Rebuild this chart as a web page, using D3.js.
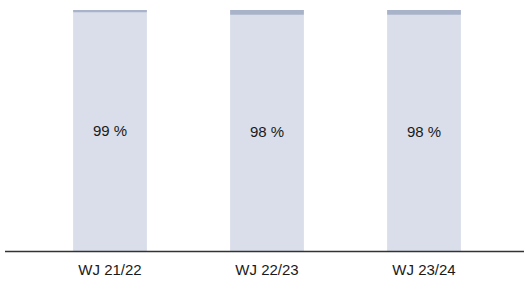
<!DOCTYPE html>
<html>
<head>
<meta charset="utf-8">
<script src="https://cdn.jsdelivr.net/npm/d3@7"></script>
<style>
  body { margin: 0; background: #fff; }
  text { font-family: "Liberation Sans", Arial, sans-serif; fill: #1a1a1a; }
</style>
</head>
<body>
<div id="chart"></div>
<script>
// data
var years = ["WJ 21/22", "WJ 22/23", "WJ 23/24"];
var shareMain = [99, 98, 98];
var shareRest = [1, 2, 2];

var width = 525, height = 283;
var baseY = 251, topY = 10;

var svg = d3.select("#chart").append("svg")
    .attr("width", width)
    .attr("height", height);

var x = d3.scaleBand()
    .domain(years)
    .range([31.5, 502.5])
    .paddingInner(0.53)
    .paddingOuter(0.265);

var y = d3.scaleLinear()
    .domain([0, 100])
    .range([baseY, topY]);

var rows = years.map(function (d, i) {
    return { year: d, main: shareMain[i], rest: shareRest[i] };
});

// light part (main share)
svg.selectAll(".barMain")
    .data(rows)
    .enter()
    .append("rect")
    .attr("class", "barMain")
    .attr("x", function (d) { return x(d.year); })
    .attr("width", x.bandwidth())
    .attr("y", function (d) { return y(d.main); })
    .attr("height", function (d) { return y(0) - y(d.main); })
    .attr("fill", "#d9deea");

// dark cap (rest)
svg.selectAll(".barRest")
    .data(rows)
    .enter()
    .append("rect")
    .attr("class", "barRest")
    .attr("x", function (d) { return x(d.year); })
    .attr("width", x.bandwidth())
    .attr("y", function (d) { return y(d.main + d.rest); })
    .attr("height", function (d) { return y(d.main) - y(d.main + d.rest); })
    .attr("fill", "#a8b2c8");

// percentage labels
svg.selectAll(".pct")
    .data(rows)
    .enter()
    .append("text")
    .attr("class", "pct")
    .attr("x", function (d) { return x(d.year) + x.bandwidth() / 2; })
    .attr("y", function (d) { return (y(0) + y(d.main)) / 2; })
    .attr("text-anchor", "middle")
    .attr("dominant-baseline", "middle")
    .style("font-size", "15px")
    .text(function (d) { return d.main + " %"; });

// baseline
svg.append("line")
    .attr("x1", 5)
    .attr("x2", 524)
    .attr("y1", baseY + 0.5)
    .attr("y2", baseY + 0.5)
    .attr("stroke", "#333")
    .attr("stroke-width", 1.4);

// category labels
svg.selectAll(".cat")
    .data(years)
    .enter()
    .append("text")
    .attr("class", "cat")
    .attr("x", function (d) { return x(d) + x.bandwidth() / 2; })
    .attr("y", 275)
    .attr("text-anchor", "middle")
    .style("font-size", "15px")
    .text(function (d) { return d; });
</script>
</body>
</html>
